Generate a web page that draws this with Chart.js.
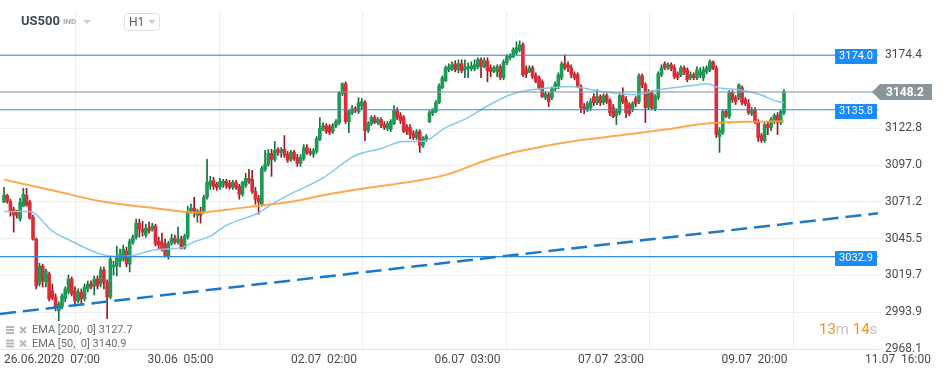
<!DOCTYPE html>
<html>
<head>
<meta charset="utf-8">
<script src="https://cdn.jsdelivr.net/npm/chart.js@4.4.0/dist/chart.umd.min.js"></script>
<style>
  html, body { margin: 0; padding: 0; background: #fff; }
  #wrap { position: relative; width: 945px; height: 375px; }
</style>
</head>
<body>
<div id="wrap"><canvas id="chart" width="945" height="375"></canvas></div>
<script>
// H1 candles, oldest first
const opens = [
  3071.0, 3075.8, 3071.7, 3066.1, 3064.0, 3059.1, 3068.2, 3075.8, 3071.0, 3060.5,
  3045.1, 3013.7, 3026.2, 3015.1, 3020.7, 3008.8, 3004.6, 2994.8, 2997.6, 3003.2,
  3008.1, 3017.2, 3008.8, 3001.8, 3008.1, 3003.2, 3010.2, 3013.7, 3012.3, 3017.2,
  3013.7, 3023.5, 3015.1, 3004.6, 3025.6, 3026.2, 3029.7, 3031.1, 3036.7, 3027.6,
  3043.0, 3046.5, 3056.3, 3052.1, 3047.9, 3052.8, 3052.1, 3054.2, 3043.7, 3043.0,
  3041.6, 3033.2, 3042.3, 3045.8, 3043.0, 3045.1, 3038.8, 3046.5, 3064.7, 3066.8,
  3061.9, 3064.7, 3064.7, 3074.4, 3082.8, 3086.3, 3083.5, 3081.4, 3083.5, 3085.6,
  3084.2, 3081.4, 3084.9, 3082.1, 3076.5, 3082.8, 3087.7, 3087.0, 3078.6, 3073.7,
  3069.6, 3094.0, 3097.5, 3105.2, 3101.0, 3108.0, 3105.9, 3108.0, 3104.5, 3101.0,
  3105.9, 3102.4, 3098.2, 3101.7, 3109.3, 3106.6, 3104.5, 3106.6, 3114.9, 3122.6,
  3124.7, 3124.0, 3120.5, 3124.7, 3126.8, 3147.1, 3154.0, 3127.5, 3133.8, 3136.6,
  3134.5, 3138.7, 3140.8, 3121.2, 3126.1, 3130.3, 3126.8, 3128.9, 3125.4, 3122.6,
  3121.9, 3126.1, 3135.2, 3131.7, 3130.3, 3124.0, 3123.3, 3119.1, 3116.3, 3120.5,
  3110.7, 3114.9, 3127.5, 3133.1, 3134.5, 3140.8, 3151.2, 3156.1, 3163.8, 3164.5,
  3168.0, 3163.8, 3168.0, 3163.8, 3164.5, 3164.5, 3164.5, 3165.9, 3170.8, 3165.9,
  3170.1, 3165.2, 3163.1, 3162.4, 3165.9, 3158.2, 3168.7, 3172.2, 3172.9, 3175.7,
  3177.8, 3181.3, 3163.8, 3162.4, 3165.2, 3159.6, 3158.2, 3155.4, 3144.3, 3146.4,
  3144.3, 3150.5, 3151.9, 3158.2, 3168.0, 3167.3, 3165.2, 3161.0, 3160.3, 3151.9,
  3138.0, 3135.9, 3137.3, 3145.0, 3140.8, 3145.0, 3140.8, 3145.7, 3142.2, 3137.3,
  3131.7, 3133.8, 3145.7, 3142.9, 3139.4, 3135.9, 3143.6, 3141.5, 3159.6, 3153.3,
  3137.3, 3147.8, 3136.6, 3144.3, 3160.3, 3168.0, 3165.2, 3167.3, 3165.2, 3161.0,
  3160.3, 3165.2, 3163.8, 3158.2, 3160.3, 3158.2, 3160.3, 3158.2, 3162.4, 3163.8,
  3169.4, 3165.2, 3117.0, 3119.8, 3134.5, 3131.0, 3147.8, 3144.3, 3144.3, 3151.2,
  3142.9, 3140.1, 3133.1, 3135.9, 3127.5, 3117.7, 3114.2, 3125.4, 3123.3, 3127.5,
  3131.7, 3126.8, 3133.8
];
const highs = [
  3081.4, 3076.5, 3073.1, 3067.5, 3065.4, 3073.7, 3080.7, 3080.7, 3072.4, 3061.9,
  3045.8, 3028.3, 3027.6, 3024.2, 3022.1, 3013.7, 3006.7, 3001.1, 3006.7, 3011.6,
  3020.0, 3018.6, 3011.6, 3010.2, 3010.2, 3013.7, 3015.8, 3015.8, 3019.3, 3019.3,
  3025.6, 3025.6, 3016.5, 3033.2, 3029.7, 3040.2, 3038.1, 3040.9, 3039.5, 3045.1,
  3047.9, 3059.1, 3059.1, 3057.7, 3055.6, 3057.0, 3056.3, 3055.6, 3046.5, 3049.3,
  3045.1, 3043.7, 3048.6, 3047.9, 3053.5, 3047.2, 3048.6, 3068.2, 3069.6, 3074.4,
  3066.1, 3067.5, 3075.8, 3101.0, 3089.1, 3088.4, 3084.9, 3087.7, 3087.0, 3087.0,
  3086.3, 3086.3, 3086.3, 3083.5, 3085.6, 3091.2, 3094.0, 3093.3, 3081.4, 3075.8,
  3096.1, 3107.3, 3108.0, 3108.0, 3113.5, 3109.3, 3109.3, 3117.7, 3106.6, 3107.3,
  3107.3, 3104.5, 3104.5, 3111.4, 3111.4, 3108.6, 3108.6, 3117.0, 3130.3, 3126.8,
  3126.1, 3125.4, 3126.1, 3128.9, 3148.5, 3154.7, 3155.4, 3135.9, 3138.7, 3138.0,
  3144.3, 3143.6, 3142.2, 3127.5, 3131.7, 3131.7, 3130.3, 3130.3, 3127.5, 3127.5,
  3128.9, 3138.7, 3137.3, 3133.8, 3131.7, 3125.4, 3125.4, 3121.2, 3121.9, 3121.9,
  3117.0, 3118.4, 3135.2, 3136.6, 3142.2, 3154.0, 3159.6, 3166.6, 3168.0, 3169.4,
  3170.1, 3170.8, 3170.8, 3170.8, 3168.7, 3169.4, 3170.8, 3172.2, 3172.2, 3172.2,
  3172.2, 3167.3, 3166.6, 3167.3, 3167.3, 3170.8, 3174.3, 3175.0, 3179.2, 3183.4,
  3184.1, 3182.7, 3166.6, 3166.6, 3166.6, 3161.7, 3159.6, 3156.8, 3148.5, 3147.8,
  3151.9, 3155.4, 3161.7, 3169.4, 3174.3, 3169.4, 3167.3, 3162.4, 3161.7, 3153.3,
  3140.1, 3141.5, 3143.6, 3147.1, 3149.9, 3146.4, 3147.1, 3147.1, 3143.6, 3139.4,
  3136.6, 3147.8, 3151.2, 3145.0, 3140.8, 3141.5, 3145.0, 3161.0, 3161.0, 3154.7,
  3149.9, 3149.2, 3146.4, 3162.4, 3167.3, 3169.4, 3168.7, 3168.7, 3167.3, 3162.4,
  3166.6, 3166.6, 3165.2, 3162.4, 3161.7, 3165.9, 3165.2, 3165.9, 3166.6, 3170.8,
  3170.1, 3166.6, 3123.3, 3135.9, 3135.9, 3149.2, 3149.2, 3145.7, 3154.0, 3152.6,
  3144.3, 3142.9, 3137.3, 3137.3, 3128.9, 3119.1, 3126.8, 3127.5, 3130.3, 3133.1,
  3133.8, 3135.9, 3149.9
];
const lows = [
  3070.8, 3070.3, 3061.2, 3050.0, 3059.8, 3057.7, 3067.9, 3068.2, 3059.1, 3044.4,
  3010.2, 3012.3, 3011.6, 3011.6, 3001.8, 3002.5, 2994.8, 2987.9, 2996.2, 3001.1,
  3006.7, 3005.3, 2998.3, 3000.4, 2999.7, 3001.8, 3008.1, 3010.2, 3006.0, 3010.2,
  3011.6, 3010.2, 2989.3, 3003.2, 3020.0, 3019.3, 3025.6, 3029.7, 3025.6, 3022.1,
  3041.6, 3045.1, 3046.5, 3047.2, 3046.5, 3049.3, 3050.7, 3040.2, 3038.1, 3036.7,
  3032.5, 3031.1, 3040.9, 3041.6, 3041.6, 3038.1, 3038.1, 3045.1, 3063.3, 3060.5,
  3057.0, 3056.3, 3063.3, 3073.1, 3080.0, 3080.0, 3079.3, 3080.0, 3081.4, 3080.7,
  3080.0, 3080.0, 3080.0, 3073.1, 3075.1, 3081.4, 3084.2, 3077.2, 3069.6, 3062.6,
  3068.2, 3092.6, 3096.1, 3089.1, 3099.6, 3103.8, 3102.4, 3102.4, 3098.9, 3099.6,
  3100.3, 3096.1, 3096.1, 3100.3, 3104.5, 3103.8, 3102.4, 3105.2, 3114.2, 3121.2,
  3119.1, 3118.4, 3119.1, 3123.3, 3125.4, 3145.7, 3126.1, 3119.8, 3132.4, 3133.8,
  3133.1, 3135.9, 3114.2, 3119.8, 3124.7, 3126.1, 3125.4, 3123.3, 3121.9, 3121.2,
  3120.5, 3125.4, 3128.9, 3126.1, 3119.8, 3118.4, 3115.6, 3114.9, 3114.9, 3105.9,
  3109.3, 3113.5, 3126.8, 3131.7, 3133.8, 3140.1, 3150.5, 3155.4, 3162.4, 3163.1,
  3162.4, 3161.7, 3161.7, 3158.2, 3158.2, 3163.1, 3163.1, 3164.5, 3158.2, 3165.2,
  3155.4, 3158.9, 3161.7, 3158.9, 3156.8, 3156.8, 3167.3, 3170.8, 3172.2, 3174.3,
  3176.4, 3158.9, 3158.2, 3161.7, 3157.5, 3154.7, 3149.9, 3144.3, 3142.9, 3138.0,
  3142.9, 3149.2, 3150.5, 3156.8, 3163.8, 3162.4, 3158.2, 3156.8, 3151.2, 3133.8,
  3133.1, 3134.5, 3135.2, 3138.7, 3139.4, 3138.7, 3139.4, 3140.1, 3131.7, 3130.3,
  3125.4, 3132.4, 3140.1, 3130.3, 3131.7, 3134.5, 3138.0, 3140.1, 3151.2, 3126.8,
  3135.9, 3135.9, 3135.2, 3142.9, 3158.9, 3163.8, 3163.8, 3163.1, 3157.5, 3156.8,
  3158.9, 3160.3, 3155.4, 3156.8, 3156.8, 3156.8, 3158.2, 3156.1, 3161.0, 3162.4,
  3163.8, 3116.3, 3105.9, 3118.4, 3130.3, 3129.6, 3140.8, 3139.4, 3142.9, 3139.4,
  3138.7, 3132.4, 3131.7, 3126.1, 3113.5, 3112.8, 3112.8, 3118.4, 3121.2, 3126.1,
  3118.4, 3125.4, 3132.4
];
const closes = [
  3075.8, 3071.7, 3064.7, 3061.9, 3061.9, 3071.0, 3076.5, 3068.9, 3059.8, 3045.1,
  3012.3, 3026.2, 3015.8, 3022.8, 3003.2, 3003.9, 2997.6, 2999.7, 3005.3, 3010.2,
  3017.2, 3006.7, 3001.8, 3008.1, 3003.2, 3011.6, 3013.7, 3011.6, 3017.2, 3012.3,
  3023.5, 3015.1, 3004.6, 3031.1, 3026.9, 3032.5, 3034.6, 3038.1, 3027.6, 3043.7,
  3046.5, 3056.3, 3052.1, 3050.0, 3052.8, 3050.7, 3054.2, 3041.6, 3040.9, 3038.1,
  3033.2, 3042.3, 3045.8, 3043.0, 3045.1, 3038.8, 3047.2, 3064.7, 3066.8, 3064.7,
  3064.7, 3061.9, 3074.4, 3084.9, 3085.6, 3082.1, 3081.4, 3085.6, 3085.6, 3082.1,
  3081.4, 3084.9, 3081.4, 3076.5, 3084.9, 3087.7, 3085.6, 3078.6, 3073.1, 3071.0,
  3094.7, 3097.5, 3105.2, 3101.0, 3107.3, 3105.9, 3108.0, 3103.8, 3100.3, 3105.9,
  3101.7, 3098.2, 3102.4, 3109.3, 3105.9, 3105.2, 3107.3, 3115.6, 3122.6, 3124.7,
  3120.5, 3119.8, 3124.7, 3127.5, 3147.8, 3154.0, 3127.5, 3134.5, 3136.6, 3135.2,
  3140.8, 3141.5, 3121.2, 3126.1, 3130.3, 3126.8, 3128.9, 3124.7, 3123.3, 3126.1,
  3127.5, 3135.2, 3130.3, 3128.2, 3120.5, 3120.5, 3118.4, 3116.3, 3120.5, 3110.7,
  3115.6, 3117.0, 3133.8, 3135.2, 3140.8, 3152.6, 3158.2, 3165.2, 3165.9, 3167.3,
  3163.8, 3168.0, 3163.1, 3165.9, 3165.9, 3166.6, 3167.3, 3170.8, 3165.9, 3170.1,
  3163.1, 3162.4, 3165.2, 3165.9, 3158.2, 3169.4, 3172.9, 3173.6, 3177.8, 3179.2,
  3181.3, 3160.3, 3161.0, 3165.2, 3158.9, 3155.4, 3151.2, 3145.0, 3147.1, 3141.5,
  3150.5, 3154.0, 3160.3, 3168.0, 3165.2, 3165.2, 3160.3, 3158.2, 3151.9, 3137.3,
  3135.9, 3140.1, 3141.5, 3140.8, 3145.0, 3140.8, 3145.7, 3141.5, 3133.8, 3131.0,
  3135.2, 3145.7, 3141.5, 3133.8, 3133.1, 3140.1, 3140.1, 3159.6, 3153.3, 3137.3,
  3147.8, 3137.3, 3145.0, 3161.0, 3165.2, 3165.2, 3167.3, 3164.5, 3158.9, 3158.2,
  3165.2, 3162.4, 3156.8, 3160.3, 3158.2, 3163.8, 3162.4, 3163.8, 3165.2, 3169.4,
  3165.2, 3118.4, 3121.2, 3134.5, 3131.7, 3147.8, 3142.9, 3141.5, 3153.3, 3140.8,
  3140.1, 3133.8, 3135.9, 3127.5, 3116.3, 3114.2, 3125.4, 3123.3, 3128.9, 3131.7,
  3126.8, 3134.5, 3148.2
];

// moving averages (candle index, value)
const ema50Idx = [0, 8, 15, 20, 30, 35, 40, 47, 55, 59, 64, 69, 79, 84, 89, 99, 109, 117, 124, 130, 137, 144, 149, 158, 168, 176, 183, 190, 196, 203, 213, 218, 222, 228, 234, 240, 242];
const ema50 = [3064.4, 3064.4, 3050.7, 3044.7, 3034.6, 3033.0, 3033.7, 3037.7, 3039.1, 3043.2, 3047.2, 3054.8, 3063.6, 3070.9, 3076.8, 3088.0, 3103.7, 3108.6, 3113.5, 3113.7, 3123.3, 3130.3, 3137.2, 3147.0, 3150.9, 3152.1, 3149.5, 3147.4, 3146.3, 3149.8, 3152.6, 3154.0, 3151.0, 3149.8, 3146.8, 3141.6, 3140.9];
const ema200Idx = [0, 15, 30, 44.5, 56.5, 59.4, 69, 79, 89, 99, 114, 129, 138.6, 148.5, 158, 168, 178, 193, 205, 218, 230, 242];
const ema200 = [3086.8, 3079.3, 3071.6, 3067.4, 3064.1, 3063.7, 3065.7, 3068.5, 3071.3, 3075.8, 3081.4, 3086.3, 3091.2, 3099.5, 3105.8, 3110.4, 3114.2, 3118.4, 3121.9, 3126.1, 3127.3, 3127.7];

// drawn objects
const trendIdx = [-1.24, 271.17];
const trendVals = [2992.7, 3063.2];
const levels = [3174.0, 3135.8, 3032.9];
const lastPrice = 3148.2;

// axes
const xTickIdx = [0, 44.52, 89.05, 133.57, 178.1, 222.62, 267.14];
const xTickLabels = ["26.06.2020  07:00", "30.06  05:00", "02.07  02:00", "06.07  03:00", "07.07  23:00", "09.07  20:00", "11.07  16:00"];
const yTicks = [2968.1, 2993.9, 3019.7, 3045.5, 3071.2, 3097.0, 3122.8, 3148.6, 3174.4];

const X_MIN = -1.24, X_MAX = 271.17;
const UP = '#1d9a55', UP_WICK = '#11703b', DOWN = '#dc2c36', DOWN_WICK = '#921b23';

const isUp = opens.map((o, i) => closes[i] >= o);

const wickData = lows.map((l, i) => ({ x: i, y: [l, highs[i]] }));
const bodyData = opens.map((o, i) => ({ x: i, y: [o, closes[i]] }));

function flatLine(v, color, width) {
  return {
    type: 'line',
    data: [{ x: X_MIN, y: v }, { x: X_MAX, y: v }],
    borderColor: color,
    borderWidth: width,
    pointRadius: 0,
    order: 3,
  };
}

const overlay = {
  id: 'overlay',
  afterDraw(chart) {
    const ctx = chart.ctx;
    const area = chart.chartArea;
    const ys = chart.scales.y;
    ctx.save();

    // level tags
    ctx.textAlign = 'center';
    ctx.textBaseline = 'middle';
    ctx.font = '11px Roboto';
    levels.forEach(function (v) {
      const py = Math.round(ys.getPixelForValue(v));
      ctx.fillStyle = '#1a8cff';
      ctx.fillRect(area.right - 43, py - 6, 42, 15);
      ctx.fillStyle = '#ffffff';
      ctx.fillText(v.toFixed(1), area.right - 22, py + 1.5);
    });

    // last price tag
    const pp = Math.round(ys.getPixelForValue(lastPrice));
    ctx.fillStyle = '#89959b';
    ctx.beginPath();
    ctx.moveTo(area.right - 6, pp);
    ctx.lineTo(area.right + 2, pp - 8);
    ctx.lineTo(area.right + 54, pp - 8);
    ctx.lineTo(area.right + 54, pp + 8);
    ctx.lineTo(area.right + 2, pp + 8);
    ctx.closePath();
    ctx.fill();
    ctx.fillStyle = '#ffffff';
    ctx.font = 'bold 12px Roboto';
    ctx.fillText(lastPrice.toFixed(1), area.right + 27, pp + 0.5);

    // header
    ctx.textAlign = 'left';
    ctx.fillStyle = '#3e4953';
    ctx.font = 'bold 13px Roboto';
    ctx.fillText('US500', 21, 22);
    ctx.fillStyle = '#a3abb1';
    ctx.font = 'bold 8px Roboto';
    ctx.fillText('IND', 63, 22);
    ctx.fillStyle = '#c9cdd0';
    ctx.beginPath();
    ctx.moveTo(83, 20); ctx.lineTo(91, 20); ctx.lineTo(87, 24); ctx.closePath();
    ctx.fill();
    ctx.fillStyle = '#ffffff';
    ctx.strokeStyle = '#dcdfe2';
    ctx.lineWidth = 1;
    ctx.beginPath();
    ctx.roundRect(124.5, 13.5, 35, 17, 3);
    ctx.fill();
    ctx.stroke();
    ctx.fillStyle = '#555c62';
    ctx.font = '12px Roboto';
    ctx.fillText('H1', 129, 22.5);
    ctx.fillStyle = '#c9cdd0';
    ctx.beginPath();
    ctx.moveTo(148, 20); ctx.lineTo(156, 20); ctx.lineTo(152, 24); ctx.closePath();
    ctx.fill();

    // indicator legend
    const rows = [['EMA [200,  0] 3127.7', 330], ['EMA [50,  0] 3140.9', 343.5]];
    rows.forEach(function (r) {
      const cy = r[1];
      ctx.fillStyle = '#b5b9bc';
      ctx.fillRect(6, cy - 4, 8, 2);
      ctx.fillRect(6, cy - 1, 8, 2);
      ctx.fillRect(6, cy + 2, 8, 2);
      ctx.strokeStyle = '#b5b9bc';
      ctx.lineWidth = 2;
      ctx.beginPath();
      ctx.moveTo(20, cy - 3); ctx.lineTo(26, cy + 3);
      ctx.moveTo(26, cy - 3); ctx.lineTo(20, cy + 3);
      ctx.stroke();
      ctx.fillStyle = '#676d72';
      ctx.font = '11px Roboto';
      ctx.fillText(r[0], 32, cy + 0.5);
    });

    // candle timer
    const parts = [['13', '#f7941d'], ['m ', '#c3c3c3'], ['14', '#f7941d'], ['s', '#c3c3c3']];
    let tx = 819;
    ctx.font = '15px Roboto';
    parts.forEach(function (p) {
      ctx.fillStyle = p[1];
      ctx.fillText(p[0], tx, 330);
      tx += ctx.measureText(p[0]).width;
    });

    ctx.restore();
  },
};

const ctx = document.getElementById('chart').getContext('2d');
new Chart(ctx, {
  type: 'bar',
  data: {
    datasets: [
      {
        label: 'wicks',
        data: wickData,
        backgroundColor: isUp.map(u => (u ? UP_WICK : DOWN_WICK)),
        barThickness: 1,
        grouped: false,
        order: 10,
      },
      {
        label: 'bodies',
        data: bodyData,
        backgroundColor: isUp.map(u => (u ? UP : DOWN)),
        borderColor: isUp.map(u => (u ? UP_WICK : DOWN_WICK)),
        borderWidth: 0,
        barThickness: 3,
        minBarLength: 1,
        grouped: false,
        order: 9,
      },
      {
        type: 'line',
        label: 'EMA 200',
        data: ema200Idx.map((x, k) => ({ x: x, y: ema200[k] })),
        borderColor: 'rgba(255,160,60,0.9)',
        borderWidth: 2,
        pointRadius: 0,
        cubicInterpolationMode: 'monotone',
        order: 4,
      },
      {
        type: 'line',
        label: 'EMA 50',
        data: ema50Idx.map((x, k) => ({ x: x, y: ema50[k] })),
        borderColor: 'rgba(125,198,236,0.95)',
        borderWidth: 1.5,
        pointRadius: 0,
        cubicInterpolationMode: 'monotone',
        order: 4,
      },
      flatLine(levels[0], '#2a8ce6', 1.2),
      flatLine(levels[1], '#2a8ce6', 1.2),
      flatLine(levels[2], '#2a8ce6', 1.2),
      flatLine(lastPrice, '#89959b', 1),
      {
        type: 'line',
        label: 'trend',
        data: trendIdx.map((x, k) => ({ x: x, y: trendVals[k] })),
        borderColor: '#1d79c6',
        borderWidth: 2.5,
        borderDash: [16, 7],
        pointRadius: 0,
        order: 2,
      },
    ],
  },
  options: {
    responsive: false,
    animation: false,
    events: [],
    layout: { padding: { top: 12, left: 0, right: 0, bottom: 0 } },
    plugins: {
      legend: { display: false },
      tooltip: { enabled: false },
    },
    scales: {
      x: {
        type: 'linear',
        min: X_MIN,
        max: X_MAX,
        offset: false,
        afterBuildTicks: s => { s.ticks = xTickIdx.map(v => ({ value: v })); },
        afterFit: s => { s.height = 26; },
        grid: { color: '#eeeeee', drawTicks: false },
        border: { color: '#e3e3e3' },
        ticks: {
          align: 'start',
          padding: 4,
          autoSkip: false,
          maxRotation: 0,
          color: '#4a4a4a',
          font: { family: 'Roboto', size: 12 },
          callback: (v, i) => xTickLabels[i],
        },
      },
      y: {
        position: 'right',
        min: 2968.1,
        max: 3204.3,
        afterBuildTicks: s => { s.ticks = yTicks.map(v => ({ value: v })); },
        afterFit: s => { s.width = 67; },
        grid: { color: '#eeeeee', tickLength: 4 },
        border: { display: false },
        ticks: {
          padding: 3,
          color: '#4a4a4a',
          font: { family: 'Roboto', size: 12 },
          callback: v => Number(v).toFixed(1),
        },
      },
    },
  },
  plugins: [overlay],
});
</script>
</body>
</html>
